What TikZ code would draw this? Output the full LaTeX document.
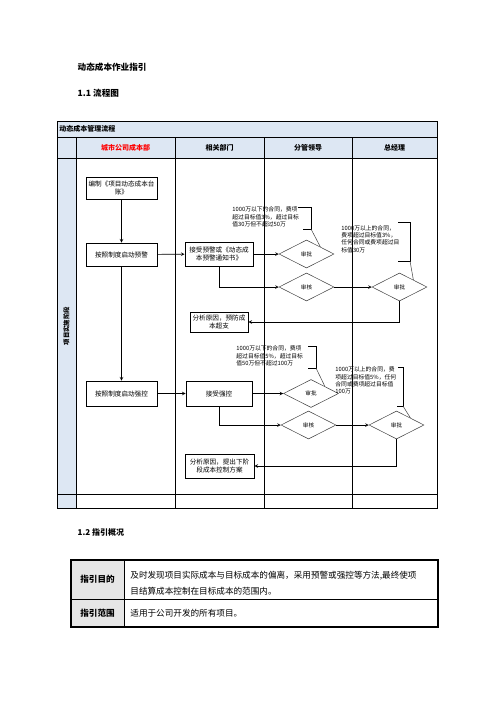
\documentclass[tikz,border=0pt]{standalone}
\usepackage{fontspec}
\setmainfont{Noto Sans CJK SC}
\usetikzlibrary{shapes,arrows,positioning,fit,calc}
\definecolor{headblue}{RGB}{221,231,243}
\definecolor{aimgray}{RGB}{230,230,230}

\begin{document}
\begin{tikzpicture}[x=1pt, y=-1pt, line width=0.8pt, >=stealth,
    hdr/.style={font=\bfseries\fontsize{7}{8}\selectfont, inner sep=0pt},
    box/.style={draw, line width=0.9pt, align=center, inner sep=1pt, font=\fontsize{6.6}{8}\selectfont},
    check/.style={draw=black!75, diamond, line width=0.5pt, minimum width=55pt, minimum height=28pt, inner sep=0pt, font=\fontsize{5.6}{6}\selectfont},
    note/.style={anchor=west, align=left, inner sep=0pt, font=\fontsize{5.8}{7.3}\selectfont},
    bracket/.style={line width=0.9pt},
    leader/.style={line width=0.5pt, draw=black!75},
    flow/.style={->, line width=0.6pt}]
\useasboundingbox[fill=white] (0,0) rectangle (496,702);

\node[anchor=west, font=\bfseries\fontsize{8.6}{10}\selectfont] (doctitle) at (74,67) {动态成本作业指引};
\node[anchor=west, font=\bfseries\fontsize{8.6}{10}\selectfont] (sec1) at (74,93) {1.1 流程图};

% swimlane table
\fill[headblue] (57,121) rectangle (437,158);
\fill[headblue] (57,158) rectangle (76,508);
\draw (57,121) rectangle (437,508);
\draw (57,137) -- (437,137);
\draw (57,158) -- (437,158);
\draw (57,494) -- (437,494);
\foreach \x in {76,175,264,352}
    \draw (\x,137) -- (\x,508);

\node[hdr, anchor=west] (flowtitle) at (59,129) {动态成本管理流程};
\node[hdr, text=red] (colcost) at (125.5,147.5) {城市公司成本部};
\node[hdr] (coldept) at (219.5,147.5) {相关部门};
\node[hdr] (collead) at (308,147.5) {分管领导};
\node[hdr] (colgm) at (394.5,147.5) {总经理};
\node[hdr, rotate=90, font=\bfseries\fontsize{6.4}{7}\selectfont] (stage) at (66.5,326) {项目实施阶段};

% warning branch
\node[box, minimum width=71pt, minimum height=22pt] (ledger) at (121.5,188) {编制《项目动态成本台\\账》};
\node[box, minimum width=71pt, minimum height=23pt] (warnstart) at (121.5,254.5) {按照制度启动预警};
\node[box, minimum width=68pt, minimum height=24pt] (warnrecv) at (219,254) {接受预警或《动态成\\本预警通知书》};
\node[check] (warnappr) at (306.5,254) {审批};
\node[check] (warncheck) at (306.5,287) {审核};
\node[check] (warngm) at (399.5,287) {审批};
\node[box, minimum width=58pt, minimum height=20pt] (warnfix) at (219,322) {分析原因，预防成\\本超支};

\draw[flow] (ledger) -- (warnstart);
\draw[flow] (warnstart) -- (warnrecv);
\draw[flow] (warnrecv) -- (warnappr);
\draw[flow] (warnrecv.south) |- (warncheck.west);
\draw[flow] (warncheck) -- (warngm);
\draw[flow] (warngm.south) |- (warnfix.east);

% strong control branch
\node[box, minimum width=71pt, minimum height=25pt] (ctrlstart) at (121.5,393.5) {按照制度启动强控};
\node[box, minimum width=66pt, minimum height=25pt] (ctrlrecv) at (219,393.5) {接受强控};
\node[check] (ctrlappr) at (311,393.5) {审批};
\node[check] (ctrlcheck) at (308.5,425) {审核};
\node[check] (ctrlgm) at (396.5,425) {审批};
\node[box, minimum width=69pt, minimum height=24pt] (ctrlfix) at (219.5,466) {分析原因，提出下阶\\段成本控制方案};

\draw[flow] (warnstart) -- (ctrlstart);
\draw[flow] (ctrlstart) -- (ctrlrecv);
\draw[flow] (ctrlrecv) -- (ctrlappr);
\draw[flow] (ctrlrecv.south) |- (ctrlcheck.west);
\draw[flow] (ctrlcheck) -- (ctrlgm);
\draw[flow] (ctrlgm.south) |- (ctrlfix.east);

% callouts
\node[note] (note1) at (232,217) {1000万以下的合同，费项\\超过目标值3\%，超过目标\\值30万但不超过50万};
\coordinate (tip1) at (311,229);
\draw[bracket] (298,207) -- (311,207) -- (tip1) -- (303,229);
\draw[leader] (tip1) -- (warnappr.north east);

\node[note] (note2) at (341,239) {1000万以上的合同，\\费项超过目标值3\%，\\任何合同或费项超过目\\标值30万};
\coordinate (tip2) at (410,261);
\draw[bracket] (398,222) -- (410,222) -- (tip2) -- (398,261);
\draw[leader] (tip2) -- (warngm.north east);

\node[note] (note3) at (236,356) {1000万以下的合同，费项\\超过目标值5\%，超过目标\\值50万但不超过100万};
\coordinate (tip3) at (316,368);
\draw[bracket] (308,346) -- (316,346) -- (tip3) -- (308,368);
\draw[leader] (tip3) -- (ctrlappr.north east);

\node[note] (note4) at (335,380.5) {1000万以上的合同，费\\项超过目标值5\%，任何\\合同或费项超过目标值\\100万};
\coordinate (tip4) at (403,406);
\draw[bracket] (398,367) -- (403,367) -- (tip4) -- (397,406);
\draw[leader] (tip4) -- (ctrlgm.north east);

% overview table
\node[anchor=west, font=\bfseries\fontsize{8}{10}\selectfont] (sec2) at (74,532) {1.2 指引概况};
\fill[aimgray] (71,560) rectangle (124,627);
\draw[line width=0.7pt] (71,599) -- (438,599);
\draw[line width=0.7pt] (124,560) -- (124,627);
\draw[line width=1.5pt] (71,560) rectangle (438,627);
\node[font=\bfseries\fontsize{8.6}{10}\selectfont] (aimlabel) at (97.5,579.5) {指引目的};
\node[font=\bfseries\fontsize{8.6}{10}\selectfont] (scopelabel) at (97.5,613) {指引范围};
\node[anchor=west, align=left, inner sep=0pt, font=\fontsize{8.6}{16}\selectfont] (aimtext) at (130,583) {及时发现项目实际成本与目标成本的偏离，采用预警或强控等方法,最终使项\\目结算成本控制在目标成本的范围内。};
\node[anchor=west, inner sep=0pt, font=\fontsize{8.6}{10}\selectfont] (scopetext) at (130,613) {适用于公司开发的所有项目。};
\end{tikzpicture}
\end{document}
